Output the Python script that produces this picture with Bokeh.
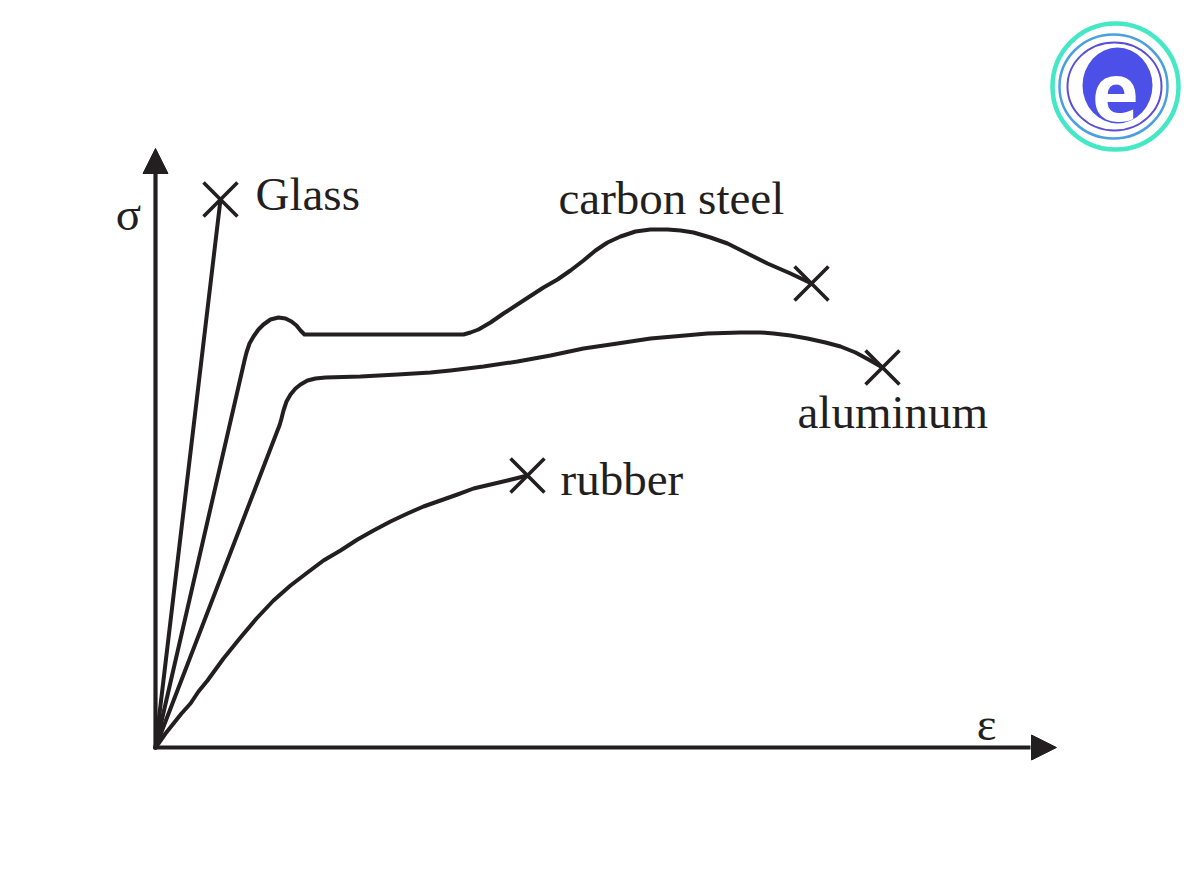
from bokeh.plotting import figure
from bokeh.models import Range1d, Arrow, NormalHead
from bokeh.core.properties import value
from bokeh.embed import file_html
from bokeh.resources import INLINE

# ---- data (strain, stress in arbitrary units) ----
glass_strain = [0, 6.5]
glass_stress = [0, 54.8]

steel_strain = [0, 8.9, 9.1, 9.4, 9.8, 10.3, 10.8, 11.5, 12.3, 13.0, 13.6, 14.1, 14.5, 14.9,
                30.8, 31.5, 32.3, 33.5, 34.8, 36.8, 38.8, 40.2, 41.5, 42.8, 44.0, 45.2,
                46.5, 48.0, 49.5, 51.2, 52.5, 53.8, 55.5, 57.2, 59.2, 61.2, 63.5, 65.6]
steel_stress = [0, 38.7, 39.5, 40.4, 41.1, 41.8, 42.3, 42.8, 43.0, 42.9, 42.6, 42.2, 41.7, 41.3,
                41.3, 41.5, 41.8, 42.5, 43.4, 44.7, 46.0, 46.8, 47.7, 48.7, 49.7, 50.5,
                51.1, 51.6, 51.8, 51.8, 51.7, 51.5, 51.0, 50.4, 49.4, 48.4, 47.4, 46.4]

alu_strain = [0, 12.2, 12.4, 12.6, 12.8, 13.1, 13.5, 14.0, 14.5, 15.2, 16.0, 17.0, 20.5,
              24.2, 27.5, 29.5, 32.8, 36.2, 39.5, 42.8, 46.2, 49.5, 51.8, 55.2, 58.5,
              60.5, 61.8, 63.5, 65.2, 67.0, 68.5, 70.0, 71.3, 72.7]
alu_stress = [0, 31.7, 32.2, 32.9, 33.7, 34.6, 35.3, 35.9, 36.3, 36.7, 36.9, 37.0, 37.1,
              37.3, 37.5, 37.7, 38.1, 38.6, 39.2, 39.9, 40.4, 40.9, 41.1, 41.4, 41.5,
              41.5, 41.4, 41.2, 40.9, 40.5, 40.1, 39.5, 38.8, 38.0]

rubber_strain = [0, 0.3, 1.0, 1.8, 2.6, 3.5, 4.3, 5.2, 6.8, 8.5, 10.1, 11.8, 13.5, 15.2,
                 16.8, 18.5, 20.2, 21.8, 23.5, 25.2, 26.8, 28.5, 30.2, 31.8, 33.5, 35.2, 37.2]
rubber_stress = [0, 0.4, 1.4, 2.4, 3.4, 4.4, 5.6, 6.7, 8.9, 11.0, 12.9, 14.7, 16.2, 17.5,
                 18.7, 19.7, 20.8, 21.7, 22.6, 23.4, 24.1, 24.7, 25.3, 25.9, 26.3, 26.7, 27.2]

material_names = ["Glass", "carbon steel", "aluminum", "rubber"]
axis_labels = ["σ", "ε"]

INK = "#231f20"
FONT = value("Liberation Serif")

p = figure(width=1184, height=879,
           x_range=Range1d(-15.5, 102.9), y_range=Range1d(-13.2, 74.7),
           output_backend="svg", toolbar_location=None,
           x_axis_location=None, y_axis_location=None, min_border=0)
p.grid.visible = False
p.outline_line_color = None
p.background_fill_color = "white"
p.border_fill_color = "white"

# ---- axes with arrows ----
p.line([0, 0, 87.5], [57.4, 0, 0], line_color=INK, line_width=4.2, line_join="miter")
p.add_layout(Arrow(end=NormalHead(size=25, fill_color=INK, line_color=INK, line_width=1),
                   x_start=0, y_start=57.0, x_end=0, y_end=59.9,
                   line_alpha=0))
p.add_layout(Arrow(end=NormalHead(size=25, fill_color=INK, line_color=INK, line_width=1),
                   x_start=87.0, y_start=0, x_end=90.1, y_end=0,
                   line_alpha=0))

# ---- curves ----
for xs, ys in [(glass_strain, glass_stress), (steel_strain, steel_stress),
               (alu_strain, alu_stress), (rubber_strain, rubber_stress)]:
    p.line(xs, ys, line_color=INK, line_width=4, line_join="round", line_cap="round")

# fracture points (last point of each curve)
fx = [glass_strain[-1], steel_strain[-1], alu_strain[-1], rubber_strain[-1]]
fy = [glass_stress[-1], steel_stress[-1], alu_stress[-1], rubber_stress[-1]]
p.scatter(fx, fy, marker="x", size=48, line_color=INK, line_width=3.6)

# ---- labels ----
lx = [10.0, 40.3, 64.2, 40.5]
ly = [55.4, 55.0, 33.6, 26.9]
p.text(lx, ly, text=material_names, text_font=FONT, text_font_size="47px",
       text_color=INK, text_align="left", text_baseline="alphabetic")
p.text([-2.7, 83.1], [53.4, 2.4], text=axis_labels, text_font=FONT, text_font_size="47px",
       text_color=INK, text_align="center", text_baseline="alphabetic")

# ---- logo ----
p.ellipse([96.0], [66.1], width=12.6, height=12.6, fill_color=None,
          line_color="#45e8c4", line_width=4.5)
p.ellipse([95.8], [66.1], width=10.8, height=10.4, fill_color=None,
          line_color="#4a9fe0", line_width=2.5)
p.ellipse([95.9], [66.1], width=9.4, height=8.8, fill_color=None,
          line_color="#5b4fd8", line_width=2)
p.ellipse([96.2], [66.2], width=7.0, height=7.6, fill_color="#4d50e8", line_color=None)
p.text([96.0], [65.6], text=["e"], text_font=value("Open Sans"), text_font_style="bold",
       text_font_size="80px", text_color="white", text_align="center",
       text_baseline="alphabetic")

open("out.html", "w").write(file_html(p, INLINE))
